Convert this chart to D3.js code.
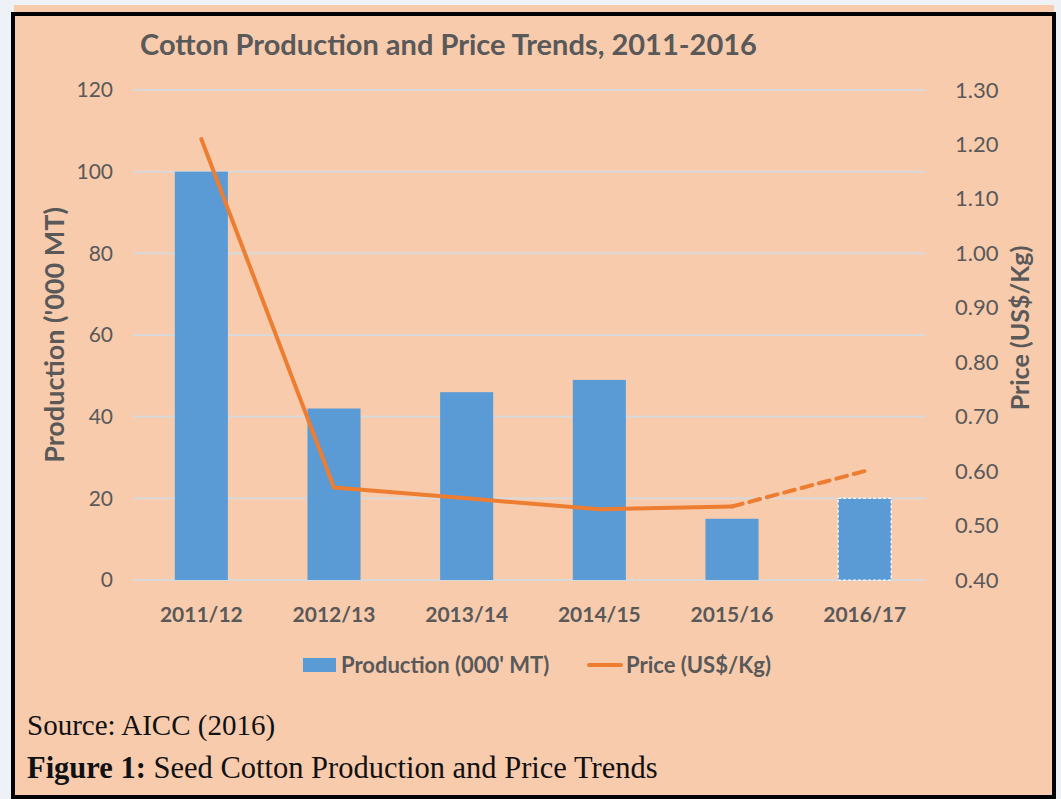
<!DOCTYPE html>
<html>
<head>
<meta charset="utf-8">
<script src="https://cdn.jsdelivr.net/npm/d3@7"></script>
<style>
  html, body { margin: 0; padding: 0; background: #eef1f6; }
  svg { display: block; }
</style>
</head>
<body>
<script>
// chart values
const seasons = ['2011/12', '2012/13', '2013/14', '2014/15', '2015/16', '2016/17'];
const production = [100, 42, 46, 49, 15, 20];
const price = [1.21, 0.57, 0.55, 0.53, 0.535, 0.60];
const prodTicks = [0, 20, 40, 60, 80, 100, 120];
const priceTicks = [0.40, 0.50, 0.60, 0.70, 0.80, 0.90, 1.00, 1.10, 1.20, 1.30];

const W = 1061, H = 799;
const grey = '#595959';
const bodyFont = 'Lato, "Open Sans", sans-serif';

const svg = d3.select(document.body).append('svg')
  .attr('width', W).attr('height', H);

// page panel
svg.append('rect').attr('x', 14).attr('y', 5).attr('width', 1040).attr('height', 792)
  .attr('fill', '#f8cbad');
svg.append('path')
  .attr('d', 'M13,799 L13,14 L1054,14 L1054,799 M13,797 L1054,797')
  .attr('fill', 'none').attr('stroke', '#000').attr('stroke-width', 4);

const plot = {left: 135, right: 931, top: 90, bottom: 580};

const x = d3.scaleBand().domain(seasons)
  .range([plot.left, plot.right]).paddingInner(0.6).paddingOuter(0.3);
const yL = d3.scaleLinear().domain([0, 120]).range([plot.bottom, plot.top]);
const yR = d3.scaleLinear().domain([0.40, 1.30]).range([plot.bottom, plot.top]);

// gridlines
svg.append('g').selectAll('line').data(prodTicks).join('line')
  .attr('x1', plot.left - 2).attr('x2', plot.right - 6)
  .attr('y1', d => yL(d)).attr('y2', d => yL(d))
  .attr('stroke', '#d9d9d9').attr('stroke-width', 2);

// left axis
const leftAxis = svg.append('g').attr('transform', `translate(${plot.left - 22},0)`)
  .call(d3.axisLeft(yL).tickValues(prodTicks).tickSize(0).tickPadding(0));
leftAxis.select('.domain').remove();
leftAxis.selectAll('text').attr('fill', grey).style('font', `21px ${bodyFont}`);

// right axis
const rightAxis = svg.append('g').attr('transform', `translate(${plot.right + 24},0)`)
  .call(d3.axisRight(yR).tickValues(priceTicks).tickFormat(d3.format('.2f')).tickSize(0).tickPadding(0));
rightAxis.select('.domain').remove();
rightAxis.selectAll('text').attr('fill', grey).style('font', `22px ${bodyFont}`);

// bottom axis
const bottomAxis = svg.append('g').attr('transform', `translate(0,${plot.bottom + 26})`)
  .call(d3.axisBottom(x).tickSize(0).tickPadding(0));
bottomAxis.select('.domain').remove();
bottomAxis.selectAll('text').attr('fill', grey).attr('dy', '0.75em')
  .style('font', `bold 21px ${bodyFont}`);

// bars
svg.append('g').selectAll('rect').data(seasons).join('rect')
  .attr('x', d => x(d)).attr('width', x.bandwidth())
  .attr('y', (d, i) => yL(production[i]))
  .attr('height', (d, i) => yL(0) - yL(production[i]))
  .attr('fill', '#5b9bd5')
  .attr('stroke', (d, i) => i === seasons.length - 1 ? '#fff' : 'none')
  .attr('stroke-width', 1.2)
  .attr('stroke-dasharray', '3,2');

// price line: solid for actuals, dashed for the estimate
const pts = seasons.map((s, i) => [x(s) + x.bandwidth() / 2, yR(price[i])]);
const line = d3.line();
svg.append('path').datum(pts.slice(0, 5)).attr('d', line)
  .attr('fill', 'none').attr('stroke', '#ed7d31').attr('stroke-width', 4)
  .attr('stroke-linecap', 'round').attr('stroke-linejoin', 'round');
svg.append('path').datum(pts.slice(4)).attr('d', line)
  .attr('fill', 'none').attr('stroke', '#ed7d31').attr('stroke-width', 4)
  .attr('stroke-dasharray', '11,7').attr('stroke-linecap', 'round');

// title
svg.append('text').attr('x', 140).attr('y', 55)
  .attr('fill', grey).style('font', `bold 29px ${bodyFont}`)
  .text('Cotton Production and Price Trends, 2011-2016');

// axis titles
svg.append('text')
  .attr('transform', `translate(64,${(plot.top + plot.bottom) / 2}) rotate(-90)`)
  .attr('text-anchor', 'middle').attr('fill', grey)
  .style('font', `bold 27px ${bodyFont}`)
  .text("Production ('000 MT)");
svg.append('text')
  .attr('transform', `translate(1029,${(plot.top + plot.bottom) / 2 - 7}) rotate(-90)`)
  .attr('text-anchor', 'middle').attr('fill', grey)
  .style('font', `bold 25px ${bodyFont}`)
  .text('Price (US$/Kg)');

// legend
const legend = svg.append('g').attr('transform', 'translate(303,665)');
legend.append('rect').attr('x', 0).attr('y', -7).attr('width', 33).attr('height', 14)
  .attr('fill', '#5b9bd5');
legend.append('text').attr('x', 38).attr('y', 0).attr('dy', '0.35em')
  .attr('fill', grey).style('font', `bold 22px ${bodyFont}`)
  .text("Production (000' MT)");
legend.append('line').attr('x1', 286).attr('x2', 318).attr('y1', 0).attr('y2', 0)
  .attr('stroke', '#ed7d31').attr('stroke-width', 4).attr('stroke-linecap', 'round');
legend.append('text').attr('x', 323).attr('y', 0).attr('dy', '0.35em')
  .attr('fill', grey).style('font', `bold 22px ${bodyFont}`)
  .text('Price (US$/Kg)');

// caption
const serif = '"Liberation Serif", "DejaVu Serif", serif';
svg.append('text').attr('x', 27).attr('y', 735)
  .attr('fill', '#111').style('font', `29px ${serif}`)
  .text('Source: AICC (2016)');
const fig = svg.append('text').attr('x', 27).attr('y', 778)
  .attr('fill', '#111').style('font', `30.5px ${serif}`);
fig.append('tspan').style('font-weight', 'bold').text('Figure 1:');
fig.append('tspan').text(' Seed Cotton Production and Price Trends');
</script>
</body>
</html>
